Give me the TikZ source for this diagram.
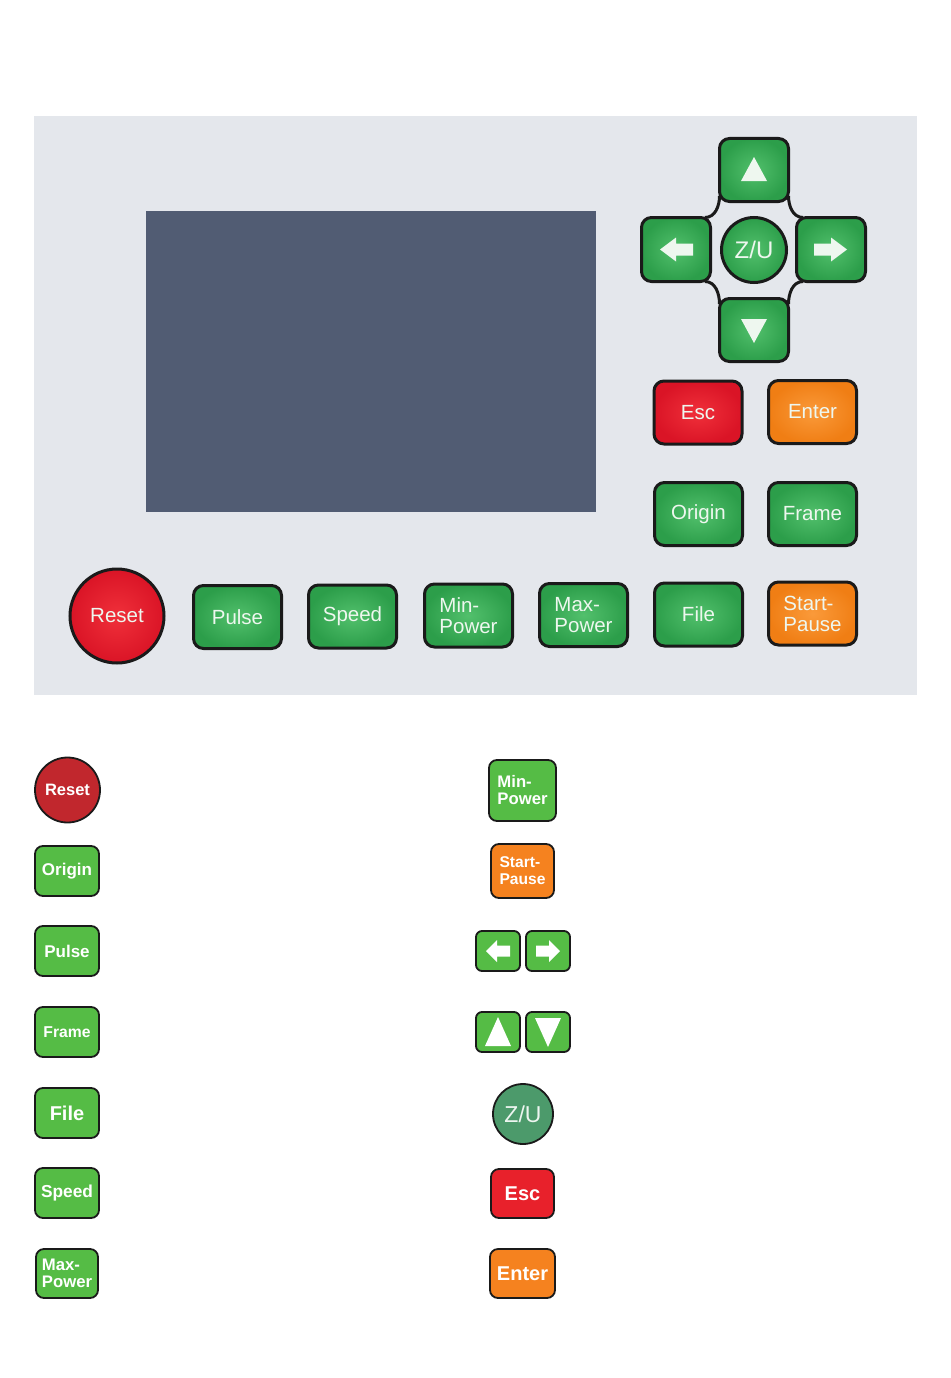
\documentclass[tikz,border=0pt]{standalone}
\usepackage{fontspec}
\setmainfont{Liberation Sans}
\definecolor{panelgray}{HTML}{E4E7EC}
\definecolor{screen}{HTML}{515C73}
\definecolor{pgin}{HTML}{52C06C}
\definecolor{pgout}{HTML}{2C9E4A}
\definecolor{prin}{HTML}{F0303A}
\definecolor{prout}{HTML}{DA1426}
\definecolor{poin}{HTML}{FA9A3A}
\definecolor{poout}{HTML}{F07E14}
\definecolor{ptext}{HTML}{EEF7EF}
\definecolor{lgreen}{HTML}{55BC45}
\definecolor{lred}{HTML}{C1272D}
\definecolor{lzu}{HTML}{4C9A6B}
\definecolor{lesc}{HTML}{E8212B}
\definecolor{lorange}{HTML}{F5821F}
\definecolor{edge}{HTML}{1A1A1A}
\begin{document}
\begin{tikzpicture}[x=1pt,y=-1pt,
  pkey/.style={draw=edge, line width=3pt, rounded corners=10pt, inner sep=0pt,
    text=ptext, font=\fontsize{20.5}{21}\selectfont, align=left,
    minimum width=88pt, minimum height=63pt},
  pgreen/.style={pkey, inner color=pgin, outer color=pgout},
  pred/.style={pkey, inner color=prin, outer color=prout},
  porange/.style={pkey, inner color=poin, outer color=poout},
  pcirc/.style={circle, draw=edge, line width=3pt, inner sep=0pt,
    text=ptext, font=\fontsize{20.5}{21}\selectfont},
  lkey/.style={draw=edge, line width=1.8pt, rounded corners=8pt, inner sep=0pt,
    text=white, font=\bfseries\fontsize{17}{18}\selectfont, align=left,
    minimum width=64pt, minimum height=50pt, fill=lgreen},
  lcirc/.style={circle, draw=edge, line width=1.8pt, inner sep=0pt, text=white},
  glyph/.style={fill=ptext},
  joint/.style={draw=edge, line width=3pt},
]
\useasboundingbox[fill=white] (0,0) rectangle (950,1378);

% ---------- panel ----------
\node[name=panel, fill=panelgray, inner sep=0pt, anchor=north west,
  minimum width=883pt, minimum height=579pt] at (34,116) {};
\node[name=screen, fill=screen, inner sep=0pt,
  minimum width=450pt, minimum height=301pt] at (371,361.5) {};

% d-pad joints
\draw[joint] (719.5,196) to[out=-90,in=0] (705,217.5);
\draw[joint] (788.5,196) to[out=-90,in=180] (803,217.5);
\draw[joint] (719.5,304) to[out=90,in=0] (705,281.5);
\draw[joint] (788.5,304) to[out=90,in=180] (803,281.5);

% d-pad keys
\node[pgreen, name=kup, minimum width=69pt] at (754,170) {};
\node[pgreen, name=kleft, minimum width=69pt, minimum height=64pt] at (676,249.5) {};
\node[pgreen, name=kright, minimum width=69pt, minimum height=64pt] at (831,249.5) {};
\node[pgreen, name=kdown, minimum width=69pt] at (754,330) {};
\node[pcirc, name=kzu, minimum size=65pt, inner color=pgin, outer color=pgout,
  font=\fontsize{24}{25}\selectfont] at (754,250) {Z/U};

\fill[glyph] ([shift={(0,-13)}]kup.center) -- ++(-13,24) -- ++(26,0) -- cycle;
\fill[glyph] ([shift={(0,13)}]kdown.center) -- ++(-13,-24) -- ++(26,0) -- cycle;
\fill[glyph] ([shift={(-16,0)}]kleft.center) -- ++(16,-12) -- ++(0,6) -- ++(17,0)
  -- ++(0,12) -- ++(-17,0) -- ++(0,6) -- cycle;
\fill[glyph] ([shift={(16,0)}]kright.center) -- ++(-16,-12) -- ++(0,6) -- ++(-17,0)
  -- ++(0,12) -- ++(17,0) -- ++(0,6) -- cycle;

% function keys
\node[pred, name=kesc] at (698,412.5) {Esc};
\node[porange, name=kenter] at (812.5,412) {Enter};
\node[pgreen, name=korigin] at (698.5,514) {Origin};
\node[pgreen, name=kframe] at (812.5,514) {Frame};
\node[pcirc, name=kreset, minimum size=94pt, inner color=prin, outer color=prout] at (117,616) {Reset};
\node[pgreen, name=kpulse] at (237.5,617) {Pulse};
\node[pgreen, name=kspeed] at (352.5,616.5) {Speed};
\node[pgreen, name=kminp] at (468.5,615.5) {Min-\\Power};
\node[pgreen, name=kmaxp] at (583.5,615) {Max-\\Power};
\node[pgreen, name=kfile] at (698.5,614.5) {File};
\node[porange, name=kstart] at (812.5,613.5) {Start-\\Pause};

% ---------- legend, left column ----------
\node[lcirc, name=lreset, minimum size=65pt, fill=lred,
  font=\bfseries\fontsize{16.5}{17}\selectfont] at (67.5,790) {Reset};
\node[lkey, name=lorigin] at (67,871) {Origin};
\node[lkey, name=lpulse] at (67,951) {Pulse};
\node[lkey, name=lframe, font=\bfseries\fontsize{15.7}{17}\selectfont] at (67,1032) {Frame};
\node[lkey, name=lfile, font=\bfseries\fontsize{20}{21}\selectfont] at (67,1113) {File};
\node[lkey, name=lspeed, font=\bfseries\fontsize{17.3}{18}\selectfont] at (67,1193) {Speed};
\node[lkey, name=lmaxp, minimum width=62pt, minimum height=49pt,
  font=\bfseries\fontsize{16.7}{17.5}\selectfont] at (67,1273.5) {Max-\\Power};

% ---------- legend, right column ----------
\node[lkey, name=lminp, minimum width=67pt, minimum height=61pt,
  font=\bfseries\fontsize{16.7}{17}\selectfont] at (522.5,790.5) {Min-\\Power};
\node[lkey, name=lstart, fill=lorange, minimum width=63pt, minimum height=54pt,
  font=\bfseries\fontsize{15.6}{17}\selectfont] at (522.5,871) {Start-\\Pause};
\node[lkey, name=lleft, minimum width=44pt, minimum height=40pt, rounded corners=6pt] at (498,951) {};
\node[lkey, name=lright, minimum width=44pt, minimum height=40pt, rounded corners=6pt] at (548,951) {};
\node[lkey, name=lup, minimum width=44pt, minimum height=40pt, rounded corners=6pt] at (498,1032) {};
\node[lkey, name=ldown, minimum width=44pt, minimum height=40pt, rounded corners=6pt] at (548,1032) {};
\fill[white] ([shift={(-12,0)}]lleft.center) -- ++(11,-11) -- ++(0,5.5) -- ++(13,0)
  -- ++(0,11) -- ++(-13,0) -- ++(0,5.5) -- cycle;
\fill[white] ([shift={(12,0)}]lright.center) -- ++(-11,-11) -- ++(0,5.5) -- ++(-13,0)
  -- ++(0,11) -- ++(13,0) -- ++(0,5.5) -- cycle;
\fill[white] ([shift={(0,-15)}]lup.center) -- ++(-13,29) -- ++(26,0) -- cycle;
\fill[white] ([shift={(0,15)}]ldown.center) -- ++(-13,-29) -- ++(26,0) -- cycle;
\node[lcirc, name=lzu, minimum size=60pt, fill=lzu, text=white!90!lzu,
  font=\fontsize{23}{24}\selectfont] at (523,1114) {Z/U};
\node[lkey, name=lesc, fill=lesc, minimum width=63pt, minimum height=49pt,
  font=\bfseries\fontsize{20}{21}\selectfont] at (522.5,1193.5) {Esc};
\node[lkey, name=lenter, fill=lorange, minimum width=65pt, minimum height=49pt,
  font=\bfseries\fontsize{20}{21}\selectfont] at (522.5,1273.5) {Enter};
\end{tikzpicture}
\end{document}
